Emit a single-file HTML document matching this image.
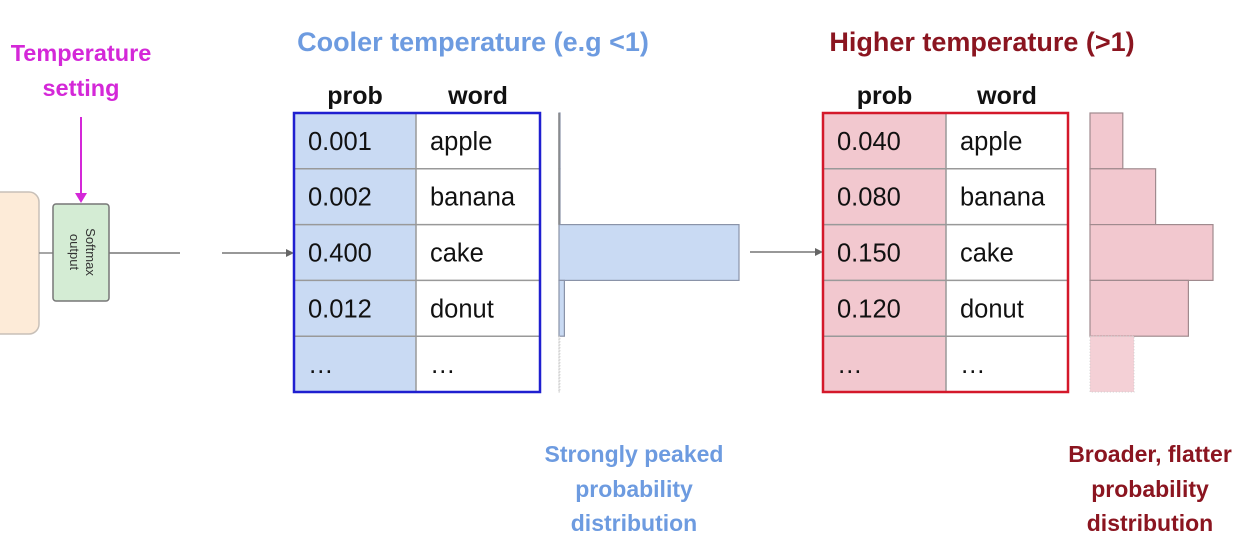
<!DOCTYPE html>
<html><head><meta charset="utf-8"><style>
html,body{margin:0;padding:0;background:#fff;}
body{width:1240px;height:538px;overflow:hidden;font-family:"Liberation Sans",sans-serif;}
svg text{font-family:"Liberation Sans",sans-serif;}
</style></head><body>
<svg id="chart" width="1240" height="538" viewBox="0 0 1240 538" xmlns="http://www.w3.org/2000/svg">
  <g>
    <text x="81" y="61" text-anchor="middle" font-size="23.5" font-weight="bold" fill="#d428d8">Temperature</text>
    <text x="81" y="96" text-anchor="middle" font-size="23.5" font-weight="bold" fill="#d428d8">setting</text>
  </g>
  <line x1="81" y1="117" x2="81" y2="196" stroke="#d428d8" stroke-width="2"/>
  <polygon points="75,193 87,193 81,203" fill="#d428d8"/>
  <rect x="-20" y="192" width="59" height="142" rx="10" fill="#fdebd8" stroke="#c8c0b8" stroke-width="1.5"/>
  <line x1="39" y1="253" x2="53" y2="253" stroke="#888" stroke-width="1.5"/>
  <rect x="53" y="204" width="56" height="97" rx="3" fill="#d4ecd4" stroke="#777" stroke-width="1.5"/>
  <text transform="translate(86,252) rotate(90)" text-anchor="middle" font-size="13" fill="#333">Softmax</text>
  <text transform="translate(70,252) rotate(90)" text-anchor="middle" font-size="13" fill="#333">output</text>
  <line x1="109" y1="253" x2="180" y2="253" stroke="#777" stroke-width="1.5"/>
  <line x1="222" y1="253" x2="290" y2="253" stroke="#777" stroke-width="1.5"/>
  <polygon points="286,249 294,253 286,257" fill="#666"/>
  <line x1="750" y1="252" x2="818" y2="252" stroke="#777" stroke-width="1.5"/>
  <polygon points="815,248 823,252 815,256" fill="#666"/>

  <text x="473" y="51" text-anchor="middle" font-size="27" font-weight="bold" fill="#6d9be0">Cooler temperature (e.g &lt;1)</text>
  <text x="982" y="51" text-anchor="middle" font-size="27" font-weight="bold" fill="#8b1520">Higher temperature (&gt;1)</text>

  <g font-size="23" font-weight="bold" fill="#6d9be0" text-anchor="middle">
    <text x="634" y="462">Strongly peaked</text>
    <text x="634" y="497">probability</text>
    <text x="634" y="531">distribution</text>
  </g>
  <g font-size="23" font-weight="bold" fill="#8b1520" text-anchor="middle">
    <text x="1150" y="462">Broader, flatter</text>
    <text x="1150" y="497">probability</text>
    <text x="1150" y="531">distribution</text>
  </g>
  <g id="cool"></g>
  <g id="hot"></g>
</svg>
<script>
const words = ["apple", "banana", "cake", "donut"];
const coolProbs = [0.001, 0.002, 0.400, 0.012];
const hotProbs = [0.040, 0.080, 0.150, 0.120];
const coolLabels = ["0.001", "0.002", "0.400", "0.012"];
const hotLabels = ["0.040", "0.080", "0.150", "0.120"];

const NS = "http://www.w3.org/2000/svg";
function mk(tag, attrs, parent){
  const e = document.createElementNS(NS, tag);
  for (const k in attrs) e.setAttribute(k, attrs[k]);
  parent.appendChild(e); return e;
}
const rowTop = 113, rowH = 55.8;
function rowY(i){ return rowTop + i * rowH; }

function drawPanel(g, cfg, probs, labels){
  const x0 = cfg.x0, xs = cfg.xs, x1 = cfg.x1;
  const hy = 104;
  const hp = mk("text", {x:(x0+xs)/2, y:hy, "text-anchor":"middle", "font-size":25, "font-weight":"bold", fill:"#111"}, g);
  hp.textContent = "prob";
  
  
  const hw = mk("text", {x:(xs+x1)/2, y:hy, "text-anchor":"middle", "font-size":25, "font-weight":"bold", fill:"#111"}, g);
  hw.textContent = "word";
  
  
  const total = words.length + 1;
  const bottom = rowY(total);
  const pc = mk("rect", {x:x0, y:rowTop, width:xs-x0, height:bottom-rowTop, fill:cfg.fill}, g);
  
  
  for (let i = 1; i < total; i++){
    mk("line", {x1:x0, x2:x1, y1:rowY(i), y2:rowY(i), stroke:"#999", "stroke-width":1.5}, g);
  }
  mk("line", {x1:xs, x2:xs, y1:rowTop, y2:bottom, stroke:"#999", "stroke-width":1.5}, g);
  for (let i = 0; i < total; i++){
    const cy = rowY(i) + rowH/2 + 9;
    const tp = mk("text", {x:x0+14, y:cy, "font-size":25.5, fill:"#111"}, g);
    tp.textContent = i < words.length ? labels[i] : "…";
    
    
    const tw = mk("text", {x:xs+14, y:cy, "font-size":25.5, fill:"#111"}, g);
    tw.textContent = i < words.length ? words[i] : "…";
    
    
  }
  const border = mk("rect", {x:x0, y:rowTop, width:x1-x0, height:bottom-rowTop, fill:"none", stroke:cfg.border, "stroke-width":2.5}, g);
  
  
  const bx = cfg.bx;
  function xScale(v){ return v * cfg.scale; }
  for (let i = 0; i < probs.length; i++){
    const b = mk("rect", {x:bx, y:rowY(i), width:Math.max(xScale(probs[i]),1), height:rowH, fill:cfg.fill, stroke:cfg.barStroke, "stroke-width":1.2}, g);
    
    
  }
  const d = mk("rect", {x:bx, y:rowY(probs.length), width:cfg.tailW, height:rowH, fill:cfg.tailFill, stroke:"#ccc", "stroke-width":1, "stroke-dasharray":"1,2"}, g);
  
  
  if (cfg.axis){
    mk("line", {x1:bx, x2:bx, y1:rowTop, y2:rowY(2), stroke:"#888", "stroke-width":1.5}, g);
    mk("line", {x1:bx, x2:bx, y1:rowY(4), y2:bottom, stroke:"#bbb", "stroke-width":1.2, "stroke-dasharray":"1,2"}, g);
  }
}
drawPanel(document.getElementById("cool"), {name:"cool", x0:294, xs:416, x1:540, fill:"#c9daf3", border:"#1f1fd0", bx:559, scale:450, barStroke:"#8a93a8", tailW:1, tailFill:"#fff", axis:true}, coolProbs, coolLabels);
drawPanel(document.getElementById("hot"), {name:"hot", x0:823, xs:946, x1:1068, fill:"#f2c8cf", border:"#d4182a", bx:1090, scale:820, barStroke:"#a08a8e", tailW:44, tailFill:"#f4d0d6", axis:false}, hotProbs, hotLabels);
</script>
</body></html>
